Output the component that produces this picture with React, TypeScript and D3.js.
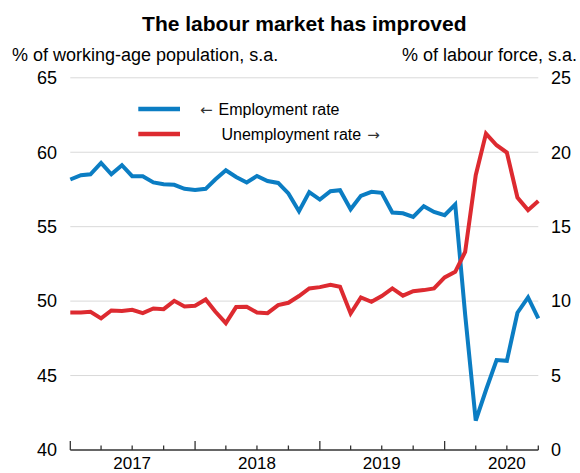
import React from 'react';
import * as d3 from 'd3';

// Monthly observations, January 2017 to October 2020
const startYear = 2017;
const employmentRate: number[] = [
  58.17, 58.46, 58.52, 59.28, 58.52, 59.13, 58.39, 58.39, 57.97, 57.85, 57.81, 57.54,
  57.47, 57.54, 58.17, 58.79, 58.34, 57.97, 58.41, 58.07, 57.94, 57.23, 56.04, 57.32,
  56.82, 57.38, 57.45, 56.17, 57.07, 57.34, 57.27, 55.95, 55.9, 55.66, 56.38, 55.99,
  55.77, 56.49, 49.1, 41.97, 44.03, 46.04, 45.99, 49.22, 50.25, 48.84,
];
const unemploymentRate: number[] = [
  9.24, 9.24, 9.28, 8.84, 9.37, 9.33, 9.42, 9.19, 9.51, 9.46, 10.02, 9.64,
  9.69, 10.11, 9.3, 8.52, 9.6, 9.62, 9.24, 9.19, 9.73, 9.89, 10.34, 10.85,
  10.94, 11.1, 10.96, 9.17, 10.25, 9.95, 10.34, 10.85, 10.37, 10.67, 10.74, 10.85,
  11.59, 11.97, 13.3, 18.46, 21.25, 20.47, 19.98, 16.96, 16.11, 16.73,
];
const yearLabels: string[] = ['2017', '2018', '2019', '2020'];
const leftTicks: number[] = [40, 45, 50, 55, 60, 65];
const rightTicks: number[] = [0, 5, 10, 15, 20, 25];

const title = 'The labour market has improved';
const leftTitle = '% of working-age population, s.a.';
const rightTitle = '% of labour force, s.a.';
const legendEmployment = 'Employment rate';
const legendUnemployment = 'Unemployment rate';
const arrowLeft = '\u2190';
const arrowRight = '\u2192';

const BLUE = '#0b7dc3';
const RED = '#dd2a30';
const FONT = '"Liberation Sans", Arial, Helvetica, sans-serif';
const ARROW_FONT = '"DejaVu Sans", sans-serif';

export default function App() {
  const W = 580;
  const H = 473;
  const x0 = 70.3;
  const x1 = 538.3;
  const yTop = 77.8;
  const yBot = 450;

  const dates = employmentRate.map((_, i) => new Date(startYear, i, 1));
  const xScale = d3
    .scaleTime()
    .domain([new Date(startYear, 0, 1), new Date(2020, 9, 1)])
    .range([x0, x1]);
  const yLeft = d3.scaleLinear().domain([40, 65]).range([yBot, yTop]);
  const yRight = d3.scaleLinear().domain([0, 25]).range([yBot, yTop]);

  const empLine = d3
    .line<number>()
    .x((_, i) => xScale(dates[i]))
    .y((d) => yLeft(d));
  const unLine = d3
    .line<number>()
    .x((_, i) => xScale(dates[i]))
    .y((d) => yRight(d));

  const quarterTicks = d3.timeMonth.every(3)!.range(new Date(startYear, 0, 1), new Date(2020, 9, 2));
  const yearTicks = d3.timeYear.range(new Date(startYear, 0, 1), new Date(2020, 9, 2));

  return (
    <svg
      width={W}
      height={H}
      style={{ position: 'absolute', left: 0, top: 0, background: '#fff' }}
      fontFamily={FONT}
    >
      <rect x={0} y={0} width={W} height={H} fill="#fff" />
      <text x={(x0 + x1) / 2} y={31} textAnchor="middle" fontSize={21} fontWeight="bold" fill="#000">
        {title}
      </text>
      <text x={12} y={61} fontSize={18} fill="#000">
        {leftTitle}
      </text>
      <text x={577} y={61} fontSize={18} textAnchor="end" fill="#000">
        {rightTitle}
      </text>

      {leftTicks.filter((t) => t !== 40).map((t) => (
        <line key={'g' + t} x1={x0} x2={x1} y1={yLeft(t)} y2={yLeft(t)} stroke="#d9d9d9" strokeWidth={1} />
      ))}
      {leftTicks.map((t) => (
        <text key={'l' + t} x={57} y={yLeft(t)} dy="0.35em" textAnchor="end" fontSize={18} fill="#000">
          {t}
        </text>
      ))}
      {rightTicks.map((t) => (
        <text key={'r' + t} x={551} y={yRight(t)} dy="0.35em" textAnchor="start" fontSize={18} fill="#000">
          {t}
        </text>
      ))}

      <line x1={x0} x2={x1} y1={yBot} y2={yBot} stroke="#333" strokeWidth={1.3} />
      {quarterTicks.map((d) => {
        const major = d.getMonth() === 0;
        const xx = xScale(d);
        return (
          <line
            key={'t' + d.getTime()}
            x1={xx}
            x2={xx}
            y1={yBot}
            y2={yBot - (major ? 9 : 4.5)}
            stroke="#333"
            strokeWidth={1.3}
          />
        );
      })}
      {yearTicks.map((d, i) => (
        <text
          key={'y' + i}
          x={xScale(new Date(d.getFullYear(), 6, 1))}
          y={469}
          textAnchor="middle"
          fontSize={17}
          fill="#000"
        >
          {yearLabels[i]}
        </text>
      ))}

      <path d={empLine(employmentRate) || ''} fill="none" stroke={BLUE} strokeWidth={4} />
      <path d={unLine(unemploymentRate) || ''} fill="none" stroke={RED} strokeWidth={4} />

      <line x1={138.3} x2={180} y1={109} y2={109} stroke={BLUE} strokeWidth={4.5} />
      <line x1={138.3} x2={180} y1={134} y2={134} stroke={RED} strokeWidth={4.5} />
      <text x={200} y={109} dy="0.35em" fontSize={16} fill="#000">
        <tspan fontFamily={ARROW_FONT} fontSize={15} fill="#333">{arrowLeft}</tspan>
        <tspan dx={6}>{legendEmployment}</tspan>
      </text>
      <text x={221.5} y={134} dy="0.35em" fontSize={16} fill="#000">
        <tspan>{legendUnemployment}</tspan>
        <tspan dx={6} fontFamily={ARROW_FONT} fontSize={15} fill="#333">{arrowRight}</tspan>
      </text>
    </svg>
  );
}
